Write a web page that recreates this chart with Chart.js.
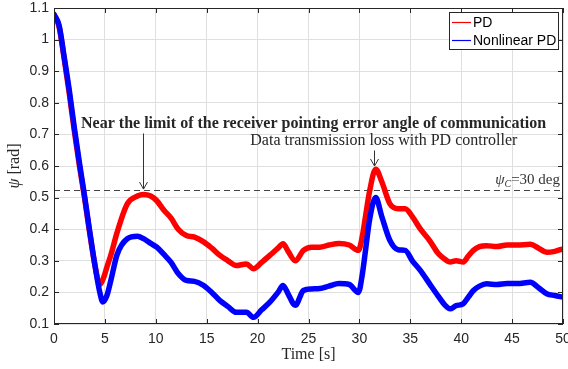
<!DOCTYPE html>
<html lang="en">
<head>
<meta charset="UTF-8">
<title>PD vs Nonlinear PD</title>
<script src="https://cdn.jsdelivr.net/npm/chart.js"></script>
<style>
  html, body { margin: 0; padding: 0; background: #fff; }
  canvas { display: block; }
</style>
</head>
<body>
<canvas id="myChart" width="568" height="369"></canvas>
<script>
// values (time in s, psi in rad)
const time = [0, 0.5, 1, 1.5, 2, 2.5, 3, 3.5, 4, 4.5, 4.8, 5.2, 5.6, 6.2, 7.2, 8.2, 8.8, 9.5, 10.1, 10.8,
  11.5, 12.2, 13, 13.8, 14.7, 15.5, 16.3, 17.1, 17.9, 18.9, 19.6, 20.4, 21.2, 22, 22.5, 23, 23.7, 24.5,
  25.3, 26.1, 27, 28, 29, 29.9, 30.3, 30.6, 31, 31.6, 32.2, 33, 33.8, 34.5, 35.2, 36, 36.9, 37.7, 38.4,
  38.9, 39.5, 40.2, 40.7, 41.2, 41.8, 42.5, 43.5, 44.5, 45.5, 46.8, 47.6, 48.4, 49.2, 50];
const pdPsi = [1.08, 1.04, 0.94, 0.83, 0.71, 0.6, 0.5, 0.39, 0.29, 0.225, 0.24, 0.28, 0.32, 0.39, 0.48, 0.505, 0.51, 0.505, 0.49, 0.46,
  0.435, 0.4, 0.38, 0.375, 0.36, 0.34, 0.317, 0.3, 0.285, 0.29, 0.275, 0.295, 0.317, 0.34, 0.354, 0.33, 0.3, 0.333,
  0.343, 0.343, 0.35, 0.355, 0.35, 0.333, 0.38, 0.44, 0.52, 0.59, 0.55, 0.48, 0.465, 0.465, 0.44, 0.4, 0.364, 0.325, 0.305,
  0.296, 0.3, 0.296, 0.315, 0.333, 0.345, 0.348, 0.345, 0.35, 0.35, 0.352, 0.34, 0.327, 0.33, 0.338];
const nlpdPsi = [1.08, 1.045, 0.945, 0.84, 0.72, 0.61, 0.505, 0.395, 0.29, 0.2, 0.17, 0.19, 0.24, 0.32, 0.37, 0.378, 0.37, 0.355, 0.343, 0.32,
  0.295, 0.26, 0.238, 0.235, 0.222, 0.2, 0.174, 0.155, 0.137, 0.137, 0.121, 0.145, 0.169, 0.2, 0.222, 0.195, 0.159, 0.206,
  0.211, 0.212, 0.22, 0.228, 0.225, 0.2, 0.26, 0.333, 0.43, 0.5, 0.44, 0.364, 0.335, 0.333, 0.3, 0.269, 0.227, 0.19, 0.16,
  0.148, 0.158, 0.164, 0.185, 0.206, 0.22, 0.227, 0.225, 0.228, 0.228, 0.232, 0.215, 0.196, 0.19, 0.185];
const xTicks = [0, 5, 10, 15, 20, 25, 30, 35, 40, 45, 50];
const yTicks = [0.1, 0.2, 0.3, 0.4, 0.5, 0.6, 0.7, 0.8, 0.9, 1, 1.1];
const psiC = Math.PI / 6; // 30 deg

const noteLimit = 'Near the limit of the receiver pointing error angle of communication';
const noteLoss = 'Data transmission loss with PD controller';

const ink = '#262626';

const toPoints = ys => time.map((t, i) => ({x: t, y: ys[i]}));

const decor = {
  id: 'decor',
  beforeDatasetsDraw(chart) {
    const {ctx, chartArea: a, scales: {y}} = chart;
    ctx.save();
    ctx.strokeStyle = '#444';
    ctx.lineWidth = 1;
    ctx.setLineDash([6, 4]);
    const yy = Math.round(y.getPixelForValue(psiC)) + 0.5;
    ctx.beginPath(); ctx.moveTo(a.left, yy); ctx.lineTo(a.right, yy); ctx.stroke();
    ctx.restore();
  },
  afterDatasetsDraw(chart) {
    const {ctx, chartArea: a, scales: {x, y}} = chart;
    ctx.save();
    // box + inward ticks
    ctx.strokeStyle = ink;
    ctx.lineWidth = 1;
    ctx.strokeRect(a.left + 0.5, a.top + 0.5, a.right - a.left - 1, a.bottom - a.top - 1);
    ctx.beginPath();
    xTicks.forEach(v => {
      const px = Math.round(x.getPixelForValue(v)) + 0.5;
      ctx.moveTo(px, a.bottom); ctx.lineTo(px, a.bottom - 5);
      ctx.moveTo(px, a.top); ctx.lineTo(px, a.top + 5);
    });
    yTicks.forEach(v => {
      const py = Math.round(y.getPixelForValue(v)) + 0.5;
      ctx.moveTo(a.left, py); ctx.lineTo(a.left + 5, py);
      ctx.moveTo(a.right, py); ctx.lineTo(a.right - 5, py);
    });
    ctx.stroke();

    // annotations
    ctx.fillStyle = ink;
    ctx.textAlign = 'center';
    ctx.textBaseline = 'alphabetic';
    ctx.font = 'bold 16px "Liberation Serif", serif';
    ctx.fillText(noteLimit, x.getPixelForValue(25.5), y.getPixelForValue(0.719));
    ctx.font = '16px "Liberation Serif", serif';
    ctx.fillText(noteLoss, x.getPixelForValue(32.4), y.getPixelForValue(0.665));

    const arrow = (t, v0, v1) => {
      const px = Math.round(x.getPixelForValue(t)) + 0.5;
      const y0 = y.getPixelForValue(v0), y1 = y.getPixelForValue(v1);
      ctx.beginPath();
      ctx.moveTo(px, y0); ctx.lineTo(px, y1);
      ctx.moveTo(px - 4, y1 - 7); ctx.lineTo(px, y1); ctx.lineTo(px + 4, y1 - 7);
      ctx.stroke();
    };
    ctx.strokeStyle = '#333';
    arrow(8.77, 0.703, 0.527);
    arrow(31.46, 0.649, 0.6);

    // psi_C label, right aligned over the dashed line
    const parts = [
      {s: '\u03c8', f: 'italic 15px "Liberation Serif", serif', dy: 0},
      {s: 'C', f: 'italic 10px "Liberation Serif", serif', dy: 3},
      {s: '=30 deg', f: '15px "Liberation Serif", serif', dy: 0}
    ];
    let w = 0;
    parts.forEach(p => { ctx.font = p.f; p.w = ctx.measureText(p.s).width; w += p.w; });
    let cx = a.right - 3 - w;
    const by = y.getPixelForValue(psiC) - 6;
    ctx.textAlign = 'left';
    ctx.fillStyle = '#333';
    parts.forEach(p => { ctx.font = p.f; ctx.fillText(p.s, cx, by + p.dy); cx += p.w; });

    // axis titles
    ctx.fillStyle = ink;
    ctx.textAlign = 'center';
    ctx.textBaseline = 'middle';
    ctx.font = '16px "Liberation Serif", serif';
    ctx.fillText('Time [s]', (a.left + a.right) / 2, 355);
    ctx.save();
    ctx.translate(15, (a.top + a.bottom) / 2);
    ctx.rotate(-Math.PI / 2);
    ctx.font = 'italic 16px "Liberation Serif", serif';
    const psiW = ctx.measureText('\u03c8 ').width;
    ctx.font = '16px "Liberation Serif", serif';
    const radW = ctx.measureText('[rad]').width;
    ctx.textAlign = 'left';
    ctx.font = 'italic 16px "Liberation Serif", serif';
    ctx.fillText('\u03c8', -(psiW + radW) / 2, 0);
    ctx.font = '16px "Liberation Serif", serif';
    ctx.fillText('[rad]', -(psiW + radW) / 2 + psiW, 0);
    ctx.restore();

    // legend
    const lx = a.right - 5 - 109, ly = a.top + 4;
    ctx.fillStyle = '#fff';
    ctx.fillRect(lx, ly, 109, 37);
    ctx.strokeStyle = ink;
    ctx.strokeRect(lx + 0.5, ly + 0.5, 109, 37);
    ctx.font = '14px "Liberation Sans", Arial, sans-serif';
    ctx.textAlign = 'left';
    ctx.textBaseline = 'middle';
    chart.data.datasets.forEach((ds, i) => {
      const yy = ly + 10.5 + i * 18;
      ctx.strokeStyle = ds.borderColor;
      ctx.lineWidth = 1.2;
      ctx.beginPath(); ctx.moveTo(lx + 3, yy); ctx.lineTo(lx + 22, yy); ctx.stroke();
      ctx.fillStyle = '#000';
      ctx.fillText(ds.label, lx + 24, yy + 1);
    });
    ctx.restore();
  }
};

const fixPadding = s => { s.paddingLeft = 0; s.paddingRight = 0; s.paddingTop = 0; s.paddingBottom = 0; };

new Chart(document.getElementById('myChart').getContext('2d'), {
  type: 'line',
  data: {
    datasets: [
      {label: 'PD', data: toPoints(pdPsi), borderColor: '#ff0000', borderWidth: 5.5, order: 1},
      {label: 'Nonlinear PD', data: toPoints(nlpdPsi), borderColor: '#0000ff', borderWidth: 5.5, order: 0}
    ]
  },
  options: {
    responsive: false,
    animation: false,
    devicePixelRatio: 1,
    layout: {padding: {left: 0, right: 5, top: 8, bottom: 0}},
    elements: {
      point: {radius: 0},
      line: {cubicInterpolationMode: 'monotone', borderJoinStyle: 'round', borderCapStyle: 'round'}
    },
    plugins: {legend: {display: false}, tooltip: {enabled: false}},
    scales: {
      x: {
        type: 'linear', min: 0, max: 50,
        afterBuildTicks: s => { s.ticks = xTicks.map(v => ({value: v})); },
        afterFit: s => { s.height = 45; fixPadding(s); },
        grid: {color: '#dfdfdf', drawTicks: false},
        border: {display: false},
        ticks: {padding: 7, color: ink, font: {family: '"Liberation Sans", Arial, sans-serif', size: 14},
          maxRotation: 0, autoSkip: false}
      },
      y: {
        type: 'linear', min: 0.1, max: 1.1,
        afterBuildTicks: s => { s.ticks = yTicks.map(v => ({value: v})); },
        afterFit: s => { s.width = 54; fixPadding(s); },
        grid: {color: '#dfdfdf', drawTicks: false},
        border: {display: false},
        ticks: {padding: 5, color: ink, font: {family: '"Liberation Sans", Arial, sans-serif', size: 14},
          callback: v => String(Number(v.toFixed(1)))}
      }
    }
  },
  plugins: [decor]
});
</script>
</body>
</html>
